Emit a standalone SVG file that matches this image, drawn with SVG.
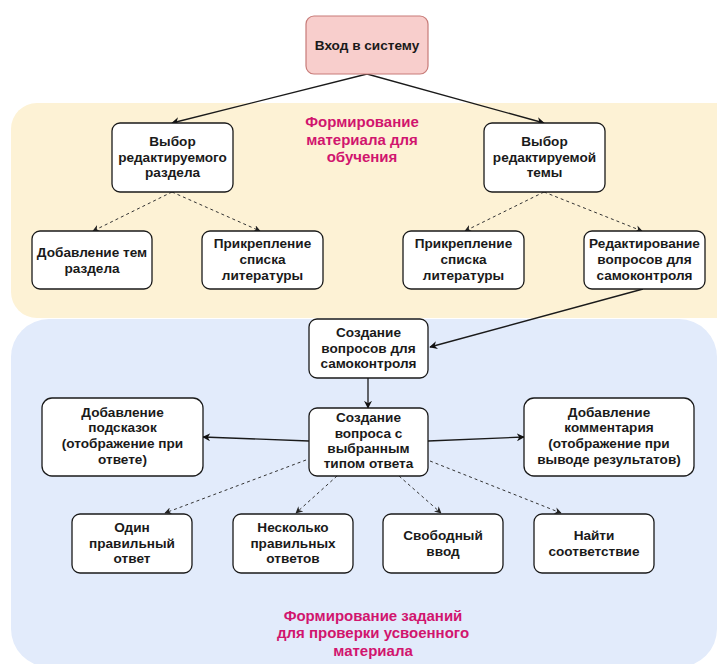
<svg xmlns="http://www.w3.org/2000/svg" width="717" height="664" viewBox="0 0 717 664">
  <defs>
    <marker id="arrow" viewBox="0 0 10 10" refX="9" refY="5" markerWidth="8" markerHeight="8" orient="auto" markerUnits="userSpaceOnUse">
      <path d="M0,0 L10,5 L0,10 L3,5 z" fill="#111"/>
    </marker>
    <marker id="arrow-d" viewBox="0 0 10 10" refX="9" refY="5" markerWidth="7" markerHeight="7" orient="auto" markerUnits="userSpaceOnUse">
      <path d="M0,0 L10,5 L0,10 L3,5 z" fill="#222"/>
    </marker>
    <style>
      .node rect { fill: #ffffff; stroke: #1a1a1a; stroke-width: 1.3; }
      .start rect { fill: #f8cecc; stroke: #c77b78; stroke-width: 1.2; }
      text { font-family: "Liberation Sans", Arial, Helvetica, sans-serif; font-size: 13.6px; font-weight: bold; fill: #1a1a1a; text-anchor: middle; }
      .title { fill: #d1156e; font-size: 15px; }
      .solid { fill: none; stroke: #1a1a1a; stroke-width: 1.3; marker-end: url(#arrow); }
      .dash { fill: none; stroke: #333; stroke-width: 1; stroke-dasharray: 3 3; marker-end: url(#arrow-d); }
    </style>
  </defs>

  <rect width="717" height="664" fill="#ffffff"/>

  <!-- swimlane panels -->
  <g id="panel-material">
    <rect x="11" y="103" width="730" height="215" rx="26" fill="#fdf2d5"/>
    <text class="title" x="362" y="127">Формирование</text>
    <text class="title" x="362" y="145">материала для</text>
    <text class="title" x="362" y="162">обучения</text>
  </g>
  <g id="panel-tasks">
    <rect x="11" y="319" width="706" height="348" rx="38" fill="#e2ebfb"/>
    <text class="title" x="373" y="621">Формирование заданий</text>
    <text class="title" x="373" y="638">для проверки усвоенного</text>
    <text class="title" x="373" y="656">материала</text>
  </g>

  <!-- connectors -->
  <g id="connectors">
    <path class="solid" d="M367,74 L172,123"/>
    <path class="solid" d="M367,74 L544,123"/>
    <path class="dash" d="M172,192 L93,231"/>
    <path class="dash" d="M172,192 L260,231"/>
    <path class="dash" d="M544,192 L465,231"/>
    <path class="dash" d="M544,192 L642,231"/>
    <path class="solid" d="M643,289 L430,347"/>
    <path class="solid" d="M368,378 L368,408"/>
    <path class="solid" d="M309,441 L203,437"/>
    <path class="solid" d="M428,441 L524,437"/>
    <path class="dash" d="M306,460 L165,513"/>
    <path class="dash" d="M337,476 L296,513"/>
    <path class="dash" d="M399,476 L441,513"/>
    <path class="dash" d="M430,461 L561,513"/>
  </g>

  <!-- nodes -->
  <g id="login" class="start">
    <rect x="306" y="16" width="122" height="58" rx="8"/>
    <text x="367" y="50">Вход в систему</text>
  </g>

  <g id="select-section" class="node">
    <rect x="112" y="123" width="121" height="69" rx="8"/>
    <text x="172.5" y="146">Выбор</text>
    <text x="172.5" y="162">редактируемого</text>
    <text x="172.5" y="177">раздела</text>
  </g>

  <g id="select-topic" class="node">
    <rect x="484" y="123" width="121" height="69" rx="8"/>
    <text x="544.5" y="146">Выбор</text>
    <text x="544.5" y="162">редактируемой</text>
    <text x="544.5" y="177">темы</text>
  </g>

  <g id="add-topics" class="node">
    <rect x="32" y="231" width="120" height="58" rx="8"/>
    <text x="92" y="257">Добавление тем</text>
    <text x="92" y="273">раздела</text>
  </g>

  <g id="attach-literature-1" class="node">
    <rect x="202" y="231" width="121" height="58" rx="8"/>
    <text x="262.5" y="248">Прикрепление</text>
    <text x="262.5" y="264">списка</text>
    <text x="262.5" y="280">литературы</text>
  </g>

  <g id="attach-literature-2" class="node">
    <rect x="403" y="231" width="121" height="58" rx="8"/>
    <text x="463.5" y="248">Прикрепление</text>
    <text x="463.5" y="264">списка</text>
    <text x="463.5" y="280">литературы</text>
  </g>

  <g id="edit-questions" class="node">
    <rect x="584" y="231" width="121" height="58" rx="8"/>
    <text x="644.5" y="248">Редактирование</text>
    <text x="644.5" y="264">вопросов для</text>
    <text x="644.5" y="280">самоконтроля</text>
  </g>

  <g id="create-questions" class="node">
    <rect x="309" y="319" width="119" height="59" rx="8"/>
    <text x="368.5" y="337">Создание</text>
    <text x="368.5" y="353">вопросов для</text>
    <text x="368.5" y="368">самоконтроля</text>
  </g>

  <g id="create-question-type" class="node">
    <rect x="309" y="408" width="119" height="68" rx="8"/>
    <text x="368.5" y="422">Создание</text>
    <text x="368.5" y="438">вопроса с</text>
    <text x="368.5" y="453">выбранным</text>
    <text x="368.5" y="468">типом ответа</text>
  </g>

  <g id="add-hints" class="node">
    <rect x="42" y="398" width="161" height="78" rx="10"/>
    <text x="122.5" y="417">Добавление</text>
    <text x="122.5" y="432">подсказок</text>
    <text x="122.5" y="448">(отображение при</text>
    <text x="122.5" y="464">ответе)</text>
  </g>

  <g id="add-comment" class="node">
    <rect x="524" y="398" width="170" height="78" rx="10"/>
    <text x="609" y="417">Добавление</text>
    <text x="609" y="432">комментария</text>
    <text x="609" y="448">(отображение при</text>
    <text x="609" y="464">выводе результатов)</text>
  </g>

  <g id="single-answer" class="node">
    <rect x="72" y="514" width="120" height="59" rx="8"/>
    <text x="132" y="532">Один</text>
    <text x="132" y="548">правильный</text>
    <text x="132" y="563">ответ</text>
  </g>

  <g id="multiple-answers" class="node">
    <rect x="233" y="514" width="120" height="59" rx="8"/>
    <text x="293" y="532">Несколько</text>
    <text x="293" y="548">правильных</text>
    <text x="293" y="563">ответов</text>
  </g>

  <g id="free-input" class="node">
    <rect x="383" y="514" width="120" height="59" rx="8"/>
    <text x="443" y="540">Свободный</text>
    <text x="443" y="556">ввод</text>
  </g>

  <g id="matching" class="node">
    <rect x="534" y="514" width="120" height="59" rx="8"/>
    <text x="594" y="540">Найти</text>
    <text x="594" y="556">соответствие</text>
  </g>
</svg>
